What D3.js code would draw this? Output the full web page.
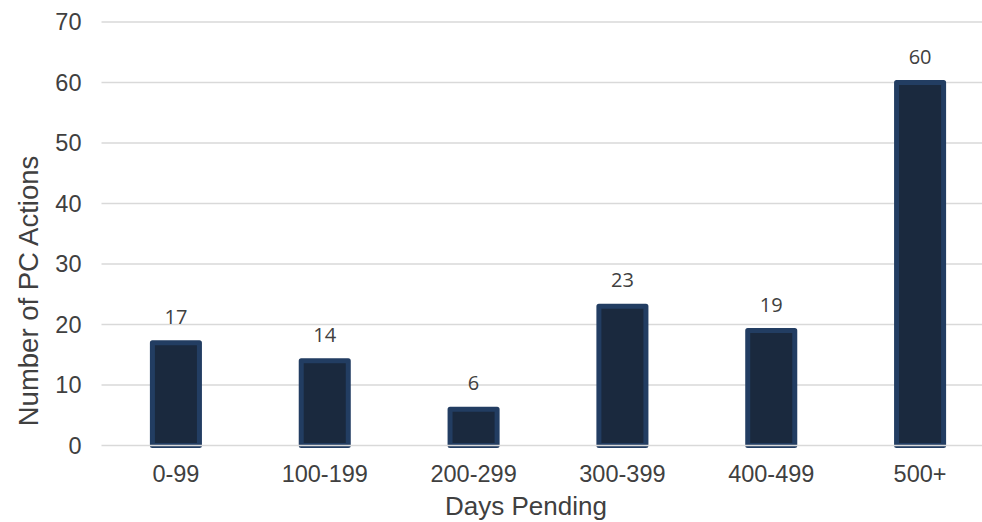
<!DOCTYPE html>
<html>
<head>
<meta charset="utf-8">
<script src="https://cdn.jsdelivr.net/npm/d3@7/dist/d3.min.js"></script>
<style>
  html, body { margin: 0; padding: 0; background: #ffffff; }
  svg { display: block; }
  .axis-text { font-family: Arial, "Liberation Sans", Helvetica, sans-serif; fill: #404040; }
  .value-text { font-family: "Open Sans", "Noto Sans", sans-serif; fill: #404040; }
</style>
</head>
<body>
<svg id="chart" width="982" height="522"></svg>
<script>
// Pending PC actions grouped by how long they have been pending
const categories = ["0-99", "100-199", "200-299", "300-399", "400-499", "500+"];
const counts = [17, 14, 6, 23, 19, 60];
const yTicks = [0, 10, 20, 30, 40, 50, 60, 70];
const xTitle = "Days Pending";
const yTitle = "Number of PC Actions";

const width = 982, height = 522;
const plot = { left: 101.5, right: 994.5, top: 22, bottom: 445.5 };

const svg = d3.select("#chart");

const x = d3.scaleBand()
  .domain(categories)
  .range([plot.left, plot.right])
  .paddingInner(0.684)
  .paddingOuter(0.342);

const y = d3.scaleLinear()
  .domain([0, 70])
  .range([plot.bottom, plot.top]);

// horizontal gridlines
svg.append("g")
  .selectAll("line")
  .data(yTicks.filter(t => t !== 0))
  .join("line")
  .attr("x1", plot.left)
  .attr("x2", plot.right)
  .attr("y1", d => y(d))
  .attr("y2", d => y(d))
  .attr("stroke", "#d9d9d9")
  .attr("stroke-width", 1.6);

// y axis tick labels
const yAxis = d3.axisLeft(y).tickValues(yTicks).tickSize(0).tickPadding(0).tickFormat(d3.format("d"));
const gy = svg.append("g")
  .attr("transform", `translate(${plot.left - 20},0)`)
  .call(yAxis);
gy.attr("font-family", null).attr("font-size", null);
gy.select(".domain").remove();
gy.selectAll("text")
  .attr("class", "axis-text")
  .attr("fill", null)
  .style("font-size", "23.5px");

// bars
svg.append("g")
  .selectAll("rect")
  .data(categories.map((c, i) => ({ c, v: counts[i] })))
  .join("rect")
  .attr("x", d => x(d.c))
  .attr("width", x.bandwidth())
  .attr("y", d => y(d.v))
  .attr("height", d => y(0) - y(d.v))
  .attr("fill", "#1a293e")
  .attr("stroke", "#223d62")
  .attr("stroke-width", 5)
  .attr("stroke-linejoin", "round");

// baseline axis drawn over the bars
svg.append("line")
  .attr("x1", plot.left)
  .attr("x2", plot.right)
  .attr("y1", y(0))
  .attr("y2", y(0))
  .attr("stroke", "#d9d9d9")
  .attr("stroke-width", 1.6);

// x axis tick labels
const xAxis = d3.axisBottom(x).tickSize(0).tickPadding(0);
const gx = svg.append("g")
  .attr("transform", `translate(0,${plot.bottom + 20})`)
  .call(xAxis);
gx.attr("font-family", null).attr("font-size", null);
gx.select(".domain").remove();
gx.selectAll("text")
  .attr("class", "axis-text")
  .attr("fill", null)
  .style("font-size", "23.5px");

// value labels above the bars
svg.append("g")
  .selectAll("text")
  .data(categories.map((c, i) => ({ c, v: counts[i] })))
  .join("text")
  .attr("class", "value-text")
  .attr("x", d => x(d.c) + x.bandwidth() / 2)
  .attr("y", d => y(d.v) - 19)
  .attr("text-anchor", "middle")
  .style("font-size", "20px")
  .text(d => d.v);

// axis titles
svg.append("text")
  .attr("class", "axis-text")
  .attr("x", 526)
  .attr("y", 515)
  .attr("text-anchor", "middle")
  .style("font-size", "26px")
  .text(xTitle);

svg.append("text")
  .attr("class", "axis-text")
  .attr("transform", "translate(38,291) rotate(-90)")
  .attr("text-anchor", "middle")
  .style("font-size", "27.5px")
  .text(yTitle);
</script>
</body>
</html>
